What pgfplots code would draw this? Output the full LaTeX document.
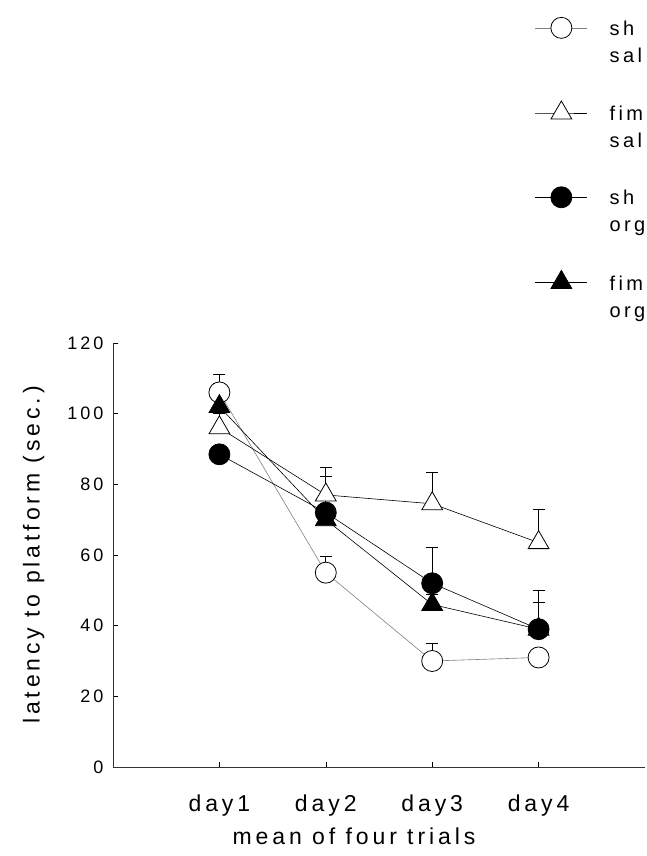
\documentclass[border=0pt]{standalone}
\usepackage{pgfplots}
\pgfplotsset{compat=1.18}
\usepackage{fontspec}
\setmainfont[LetterSpace=17]{Liberation Sans}
\newcommand{\two}[2]{\begin{tabular}[t]{@{}l@{}}#1\\[3bp]#2\end{tabular}}
\begin{document}
\begin{tikzpicture}
\begin{axis}[name=ax, scale only axis, width=532bp, height=424bp,
  xmin=0, xmax=5, ymin=0, ymax=120,
  axis lines=left, axis line style={-, line width=0.6bp, black!80},
  xtick={1,2,3,4}, xticklabels={day1,day2,day3,day4},
  ytick={0,20,40,60,80,100,120},
  tick align=inside, major tick length=5bp, tick style={black, line width=0.5bp},
  /pgf/number format/assume math mode=true,
  yticklabel style={font=\fontsize{18bp}{21bp}\selectfont, xshift=-6bp},
  xticklabel style={font=\fontsize{23bp}{27bp}\selectfont, yshift=-24bp},
  xlabel={mean of four trials}, ylabel={latency to platform (sec.)},
  label style={font=\fontsize{23bp}{27bp}\selectfont},
  xlabel style={yshift=-5bp, xshift=-25bp},
  ylabel style={yshift=16bp},
  clip=false,
  every axis plot/.append style={line width=0.6bp, black},
  error bars/y dir=plus, error bars/y explicit,
  error bars/error mark=-,
  error bars/error bar style={black, line width=0.6bp},
  error bars/error mark options={rotate=90, black, mark size=6bp, line width=0.6bp},
  legend style={draw=none, fill=none, inner sep=0pt, at={(axis description cs:0.793,1.77)}, anchor=north west,
    font=\fontsize{20bp}{24bp}\selectfont, row sep=62bp, column sep=20bp},
  legend cell align=left,
  legend image code/.code={\draw[#1, mark repeat=2, mark phase=2] plot coordinates {(0bp,0bp) (26bp,0bp) (52bp,0bp)};},
]
% sh sal
\addplot[gray, mark=*, mark size=10.5bp, mark options={fill=white, draw=black, line width=0.8bp}]
  table[x=x, y=y, y error=e] {
x y e
1 106 5
2 55 4.5
3 30 5
4 31 0
};
\addlegendentry{\two{sh}{sal}}
% fim sal
\addplot[black, mark=triangle*, mark size=12bp, mark options={fill=white, draw=black, line width=0.8bp}]
  table[x=x, y=y, y error=e] {
x y e
1 96 4
2 77 7.7
3 74.5 9
4 63.5 9.5
};
\addlegendentry{\two{fim}{sal}}
% sh org
\addplot[black, mark=*, mark size=10.5bp, mark options={fill=black, draw=black, line width=0.8bp}]
  table[x=x, y=y, y error=e] {
x y e
1 88.5 0
2 72 10.4
3 52 10.3
4 39 11
};
\addlegendentry{\two{sh}{org}}
% fim org
\addplot[black, mark=triangle*, mark size=12bp, mark options={fill=black, draw=black, line width=0.8bp}]
  table[x=x, y=y, y error=e] {
x y e
1 102 6.5
2 70 4
3 46 3
4 39 7.5
};
\addlegendentry{\two{fim}{org}}
\end{axis}
\pgfresetboundingbox
\path (ax.south west) +(-113bp,-89bp) rectangle ([shift={(2bp,343bp)}]ax.north east);
\end{tikzpicture}
\end{document}
